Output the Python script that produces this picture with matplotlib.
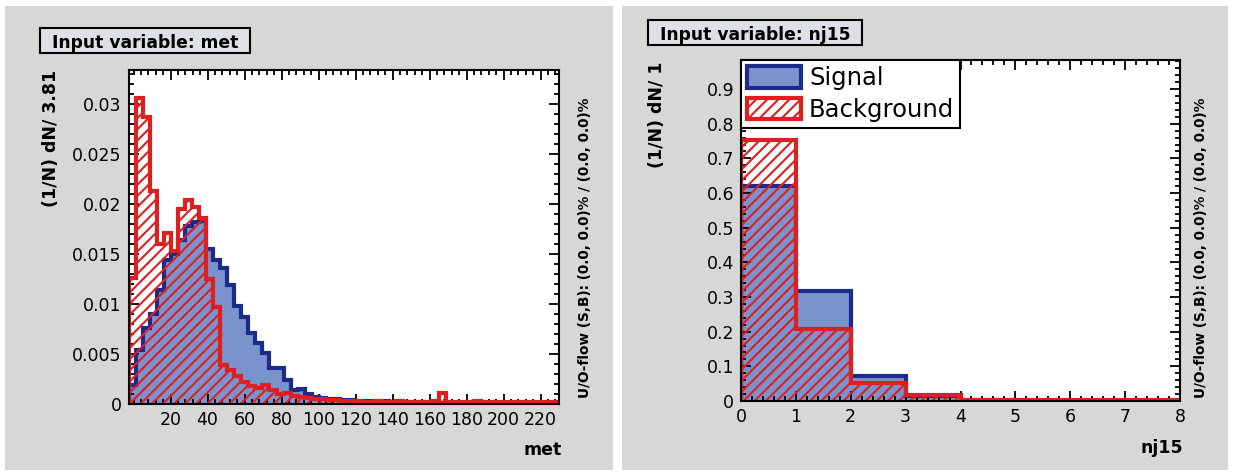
import matplotlib
matplotlib.use("Agg")
import matplotlib.pyplot as plt
import numpy as np
from matplotlib.patches import Rectangle, Patch
from matplotlib.ticker import MultipleLocator, FuncFormatter

# ---- data ----
met_xmin = -2.75
met_binw = 3.81
met_signal = [0.0019, 0.0054, 0.0076, 0.0090, 0.0114, 0.0144, 0.0150, 0.0164, 0.0178, 0.0182,
              0.0183, 0.0155, 0.0144, 0.0136, 0.0119, 0.0098, 0.0087, 0.0071, 0.0061, 0.0051,
              0.0036, 0.0036, 0.0024, 0.0014, 0.0015, 0.0010, 0.0007, 0.0006, 0.0005, 0.0005,
              0.0004, 0.0004, 0.0003, 0.0003, 0.0003, 0.0002, 0.0003, 0.0002, 0.0002, 0.0002,
              0.0002, 0.0002, 0.0001, 0.0002, 0.0001, 0.0001, 0.0001, 0.0001, 0.0001, 0.0001,
              0.0001, 0.0001, 0.0001, 0.0001, 0.0001, 0.0001, 0.0001, 0.0001, 0.0001, 0.0001,
              0.0001]
met_background = [0.0126, 0.0306, 0.0287, 0.0213, 0.0160, 0.0171, 0.0153, 0.0195, 0.0204, 0.0197,
                  0.0186, 0.0125, 0.0097, 0.0039, 0.0034, 0.0028, 0.0022, 0.0018, 0.0016, 0.0019,
                  0.0014, 0.0010, 0.0011, 0.0008, 0.0007, 0.0006, 0.0005, 0.0005, 0.0004, 0.0004,
                  0.0003, 0.0003, 0.0003, 0.0002, 0.0002, 0.0003, 0.0002, 0.0002, 0.0003, 0.0002,
                  0.0002, 0.0002, 0.0002, 0.0003, 0.0011, 0.0002, 0.0002, 0.0002, 0.0002, 0.0003,
                  0.0002, 0.0002, 0.0002, 0.0002, 0.0002, 0.0002, 0.0002, 0.0002, 0.0002, 0.0002,
                  0.0002]

nj_edges = [0, 1, 2, 3, 4, 5, 6, 7, 8]
nj_signal = [0.620, 0.318, 0.072, 0.014, 0.003, 0.001, 0.0005, 0.0003]
nj_background = [0.752, 0.207, 0.052, 0.016, 0.004, 0.003, 0.003, 0.003]

# ---- colours ----
GRAY = "#d7d8d5"
TITLEBOX = "#dde1e6"
SIG_FILL = "#7b93cc"
SIG_LINE = "#1c2a8a"
BKG = "#dd1f1f"

plt.rcParams["hatch.linewidth"] = 1.5

W, H = 1234, 476
fig = plt.figure(figsize=(W / 100, H / 100), dpi=100)


def fx(px):
    return px / W


def fy(py):
    return 1 - py / H


# gray pads behind each panel
for x0, x1 in [(5, 613), (622, 1228)]:
    fig.add_artist(Rectangle((fx(x0), fy(470)), (x1 - x0) / W, (470 - 6) / H,
                             transform=fig.transFigure, fc=GRAY, ec="none", zorder=0))


def draw_hist(ax, edges, sig, bkg):
    ax.stairs(sig, edges, fill=True, facecolor=SIG_FILL, lw=0, zorder=1)
    ax.stairs(sig, edges, color=SIG_LINE, lw=3, zorder=2)
    ax.stairs(bkg, edges, fill=True, facecolor="none", edgecolor=BKG, hatch="///", lw=0, zorder=3)
    ax.stairs(bkg, edges, color=BKG, lw=3, zorder=4)


def style_axes(ax):
    ax.set_facecolor("white")
    for s in ax.spines.values():
        s.set_linewidth(1.5)
        s.set_zorder(6)
    ax.tick_params(which="both", direction="in", top=True, right=True, width=1.3,
                   labelsize=12.5, pad=5)
    ax.tick_params(which="major", length=7)
    ax.tick_params(which="minor", length=3.5)
    ax.yaxis.set_major_formatter(FuncFormatter(lambda v, p: "%g" % round(v, 4)))


def title_box(x0, y0, x1, y1, text):
    fig.add_artist(Rectangle((fx(x0), fy(y1)), (x1 - x0) / W, (y1 - y0) / H,
                             transform=fig.transFigure, fc=TITLEBOX, ec="black", lw=1.5, zorder=5))
    fig.text(fx(x0 + 12), fy((y0 + y1) / 2), text, ha="left", va="center_baseline",
             fontsize=12.3, fontweight="bold", zorder=6)


# ---- left panel: met ----
met_edges = met_xmin + met_binw * np.arange(len(met_signal) + 1)
ax1 = fig.add_axes([fx(128.5), fy(404), 430 / W, 334 / H])
draw_hist(ax1, met_edges, met_signal, met_background)
ax1.set_xlim(met_edges[0], met_edges[-1])
ax1.set_ylim(0, 0.0334)
style_axes(ax1)
ax1.set_xticks(np.arange(20, 221, 20))
ax1.xaxis.set_minor_locator(MultipleLocator(4))
ax1.yaxis.set_major_locator(MultipleLocator(0.005))
ax1.yaxis.set_minor_locator(MultipleLocator(0.001))

title_box(40, 28, 250, 53, "Input variable: met")
fig.text(fx(51), fy(70), "(1/N) dN/ 3.81", rotation=90, ha="center", va="top",
         fontsize=12.5, fontweight="bold")
fig.text(fx(562), fy(450), "met", ha="right", va="center", fontsize=12.5, fontweight="bold")
fig.text(fx(585), fy(398), "U/O-flow (S,B): (0.0, 0.0)% / (0.0, 0.0)%", rotation=90,
         ha="center", va="bottom", fontsize=9.8, fontweight="bold")

# ---- right panel: nj15 ----
ax2 = fig.add_axes([fx(741), fy(401), 439 / W, 341 / H])
draw_hist(ax2, nj_edges, nj_signal, nj_background)
ax2.set_xlim(0, 8)
ax2.set_ylim(0, 0.984)
style_axes(ax2)
ax2.xaxis.set_major_locator(MultipleLocator(1))
ax2.xaxis.set_minor_locator(MultipleLocator(0.2))
ax2.yaxis.set_major_locator(MultipleLocator(0.1))
ax2.yaxis.set_minor_locator(MultipleLocator(0.02))

title_box(648, 20, 862, 45, "Input variable: nj15")
fig.text(fx(657), fy(62), "(1/N) dN/ 1", rotation=90, ha="center", va="top",
         fontsize=12.5, fontweight="bold")
fig.text(fx(1183), fy(448), "nj15", ha="right", va="center", fontsize=12.5, fontweight="bold")
fig.text(fx(1201), fy(398), "U/O-flow (S,B): (0.0, 0.0)% / (0.0, 0.0)%", rotation=90,
         ha="center", va="bottom", fontsize=9.8, fontweight="bold")

handles = [Patch(facecolor=SIG_FILL, edgecolor=SIG_LINE, lw=3, label="Signal"),
           Patch(facecolor="white", edgecolor=BKG, hatch="///", lw=3, label="Background")]
leg = ax2.legend(handles=handles, loc="upper left", bbox_to_anchor=(0, 1), borderaxespad=0,
                 fontsize=17.5, fancybox=False, framealpha=1, edgecolor="black",
                 handlelength=2.2, handleheight=1.0, handletextpad=0.35, labelspacing=0.3,
                 borderpad=0.25)
leg.get_frame().set_linewidth(1.5)
leg.set_zorder(10)

fig.savefig("out.png", dpi=100)
